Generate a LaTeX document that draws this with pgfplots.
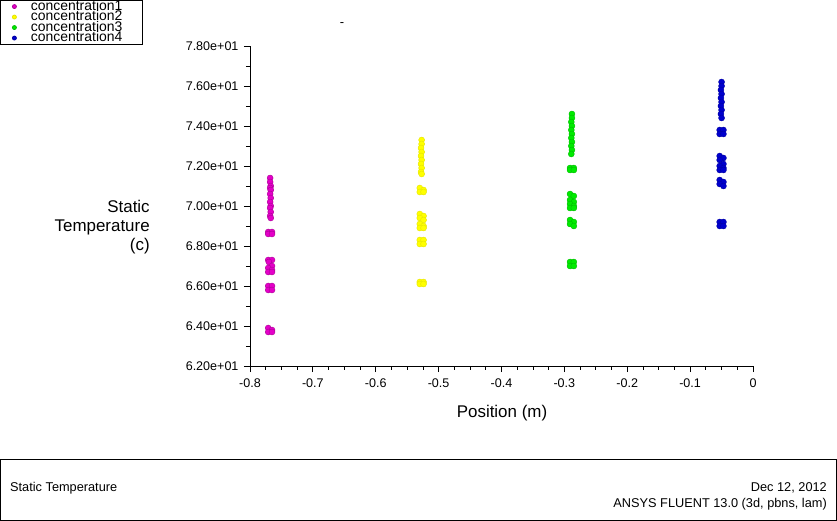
\documentclass[border=0pt]{standalone}
\usepackage{pgfplots}
\pgfplotsset{compat=1.18}
\usepackage{fontspec}
\setmainfont{Liberation Sans}
\definecolor{cpink}{RGB}{228,0,200}
\definecolor{cyellow}{RGB}{255,255,0}
\definecolor{cgreen}{RGB}{0,235,0}
\definecolor{cblue}{RGB}{0,0,205}
\begin{document}
\begin{tikzpicture}
\path[use as bounding box] (0,0) rectangle (837bp,521bp);
\draw[line width=0.8bp] (0.5bp,0.8bp) rectangle (836.3bp,62bp);
\node[anchor=west,font=\fontsize{12.8}{14}\selectfont,inner sep=0pt] at (10bp,33bp) {Static Temperature};
\node[anchor=east,font=\fontsize{12.8}{14}\selectfont,inner sep=0pt] at (827bp,33bp) {Dec 12, 2012};
\node[anchor=east,font=\fontsize{12.8}{14}\selectfont,inner sep=0pt] at (827bp,17bp) {ANSYS FLUENT 13.0 (3d, pbns, lam)};
\begin{axis}[
  at={(250bp,155bp)}, anchor=south west,
  scale only axis, width=503bp, height=320bp,
  xmin=-0.8, xmax=0, ymin=62, ymax=78,
  axis x line*=bottom, axis y line*=left,
  axis line style={black,line width=0.8bp},
  tick style={black,line width=0.8bp},
  tick align=outside,
  major tick length=6bp, minor tick length=4bp,
  xtick={-0.8,-0.7,-0.6,-0.5,-0.4,-0.3,-0.2,-0.1,0},
  xticklabels={-0.8,-0.7,-0.6,-0.5,-0.4,-0.3,-0.2,-0.1,0},
  minor x tick num=3,
  ytick={62,64,66,68,70,72,74,76,78},
  yticklabels={6.20e+01,6.40e+01,6.60e+01,6.80e+01,7.00e+01,7.20e+01,7.40e+01,7.60e+01,7.80e+01},
  minor y tick num=1,
  ticklabel style={font=\fontsize{12.6}{14}\selectfont},
  yticklabel style={xshift=-2bp},
  xticklabel style={yshift=-3.5bp},
  xlabel={Position (m)},
  xlabel style={at={(axis description cs:0.501,-0.1460)}, anchor=center, font=\fontsize{17}{19}\selectfont},
  clip=false,
  legend cell align=left,
  legend style={at={(axis description cs:-0.497,1.144)}, anchor=north west,
    draw=black, line width=0.8bp, inner sep=1pt, row sep=0pt, column sep=0pt,
    font=\fontsize{14}{10}\selectfont,
    nodes={inner sep=0.5pt, text height=8.5bp, text depth=1bp},
    text width=110bp},
  legend image code/.code={\path[draw=none,fill=none] (0bp,-1bp) rectangle (29bp,1bp);
     \draw[#1,mark size=2bp] plot coordinates {(13bp,0bp)};},
]
\addplot[only marks, mark=*, mark size=3bp, color=cpink, mark options={fill=cpink, draw=cpink!75!black}] coordinates {
(-0.768,71.4) (-0.768,71.2) (-0.767,71.0) (-0.768,70.9) (-0.767,70.8) (-0.768,70.6) (-0.767,70.4)
(-0.768,70.2) (-0.767,70.0) (-0.768,69.9) (-0.767,69.7) (-0.768,69.5) (-0.767,69.4)
(-0.771,68.7) (-0.765,68.7) (-0.771,68.6) (-0.765,68.6)
(-0.771,67.3) (-0.765,67.3) (-0.770,67.2) (-0.765,67.0) (-0.771,66.9) (-0.765,66.8) (-0.771,66.7) (-0.765,66.7)
(-0.771,66.0) (-0.765,66.0) (-0.771,65.8) (-0.765,65.8)
(-0.771,63.9) (-0.765,63.8) (-0.771,63.7) (-0.765,63.7)
};
\addlegendentry{concentration1}
\addplot[only marks, mark=*, mark size=3bp, color=cyellow, mark options={fill=cyellow, draw=cyellow!90!black}] coordinates {
(-0.527,73.3) (-0.527,73.1) (-0.528,72.9) (-0.527,72.7) (-0.528,72.5) (-0.527,72.3) (-0.528,72.1)
(-0.527,71.9) (-0.528,71.7) (-0.527,71.6)
(-0.530,70.9) (-0.524,70.8) (-0.530,70.7) (-0.524,70.7)
(-0.530,69.6) (-0.524,69.5) (-0.530,69.4) (-0.524,69.3) (-0.530,69.1) (-0.524,69.0) (-0.530,68.9) (-0.524,68.9)
(-0.530,68.3) (-0.524,68.3) (-0.530,68.1) (-0.524,68.1)
(-0.530,66.2) (-0.524,66.2) (-0.530,66.1) (-0.524,66.1)
};
\addlegendentry{concentration2}
\addplot[only marks, mark=*, mark size=3bp, color=cgreen, mark options={fill=cgreen, draw=cgreen!80!black}] coordinates {
(-0.288,74.6) (-0.288,74.4) (-0.289,74.2) (-0.288,74.0) (-0.289,73.8) (-0.288,73.6) (-0.289,73.4)
(-0.288,73.2) (-0.289,73.0) (-0.288,72.8) (-0.289,72.6)
(-0.291,71.9) (-0.285,71.9) (-0.291,71.8) (-0.285,71.8)
(-0.291,70.6) (-0.285,70.5) (-0.291,70.3) (-0.285,70.2) (-0.291,70.1) (-0.285,70.0) (-0.291,69.9) (-0.285,69.9)
(-0.291,69.3) (-0.285,69.2) (-0.291,69.1) (-0.285,69.0)
(-0.291,67.2) (-0.285,67.2) (-0.291,67.0) (-0.285,67.0)
};
\addlegendentry{concentration3}
\addplot[only marks, mark=*, mark size=3bp, color=cblue, mark options={fill=cblue, draw=cblue!80!black}] coordinates {
(-0.050,76.2) (-0.050,76.0) (-0.051,75.8) (-0.050,75.6) (-0.051,75.4) (-0.050,75.2) (-0.051,75.0)
(-0.050,74.8) (-0.051,74.6) (-0.050,74.4)
(-0.053,73.8) (-0.047,73.8) (-0.053,73.6) (-0.047,73.6)
(-0.053,72.5) (-0.047,72.4) (-0.053,72.3) (-0.047,72.1) (-0.053,72.0) (-0.047,71.9) (-0.053,71.8) (-0.047,71.8)
(-0.053,71.3) (-0.047,71.2) (-0.053,71.1) (-0.047,71.0)
(-0.053,69.2) (-0.047,69.2) (-0.053,69.0) (-0.047,69.0)
};
\addlegendentry{concentration4}
\node[anchor=east, align=right, font=\fontsize{17}{19}\selectfont, inner sep=0pt] at (axis description cs:-0.199,0.434) {Static\\Temperature\\(c)};
\node[font=\fontsize{13}{14}\selectfont, inner sep=0pt] at (axis description cs:0.183,1.068) {-};
\end{axis}
\end{tikzpicture}
\end{document}
